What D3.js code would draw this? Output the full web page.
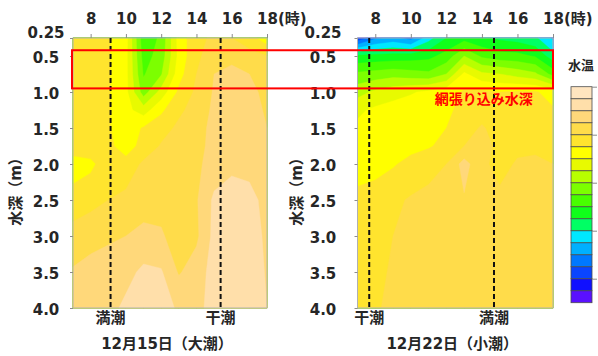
<!DOCTYPE html>
<html>
<head>
<meta charset="utf-8">
<script src="https://cdn.jsdelivr.net/npm/d3@7"></script>
<style>
  body { margin: 0; background: #fff; }
  svg text { font-family: "DejaVu Sans", "Noto Sans CJK JP", sans-serif; font-weight: bold; fill: #262626; }
</style>
</head>
<body>
<div id="chart"></div>
<script>
// grid of the measurements: hours (columns) x depth in m (rows)
const hours = [7, 8, 9, 10, 11, 12, 13, 14, 15, 16, 17, 18];
const depths = [0.25, 0.5, 0.75, 1.0, 1.25, 1.5, 1.75, 2.0, 2.5, 3.0, 3.5, 4.0];
const hourTicks = [8, 10, 12, 14, 16, 18];
const depthTicks = [0.25, 0.5, 1.0, 1.5, 2.0, 2.5, 3.0, 3.5, 4.0];

// colour bands of the water temperature scale, coldest first
const bandColors = [
  '#5A10FF', '#1010FF', '#0A45FF', '#0078FF', '#00B0FF', '#00E8FF',
  '#00FF64', '#10FF1A', '#48FF00', '#7CFF00', '#B8FF00', '#E8FA00',
  '#FFFF00', '#FFE42E', '#FFDC4A', '#FFD87A', '#FFDFAA', '#FFE5C0'
];

// water temperature, in colour-band units (rows = depths)
const tempDec15 = [
  [13.7, 13.7, 13.1, 12.4,  8.3,  9.2, 12.4, 13.7, 14.2, 14.0, 13.4, 12.4],
  [13.7, 13.7, 13.1, 12.3,  8.6,  9.4, 12.3, 13.8, 14.5, 14.8, 14.4, 14.0],
  [13.7, 13.7, 13.1, 12.3,  8.9,  9.9, 12.6, 14.0, 15.0, 15.2, 15.0, 14.6],
  [13.7, 13.7, 13.1, 12.3,  9.5, 11.4, 13.2, 14.2, 15.1, 15.3, 15.2, 14.8],
  [13.7, 13.7, 13.1, 12.3, 11.5, 12.8, 13.8, 14.4, 15.2, 15.4, 15.3, 14.9],
  [13.7, 13.6, 13.1, 12.4, 13.1, 13.6, 14.2, 14.6, 15.3, 15.5, 15.4, 15.0],
  [13.6, 13.5, 13.2, 12.6, 13.3, 14.1, 14.4, 14.7, 15.3, 15.6, 15.5, 15.1],
  [12.5, 12.8, 13.5, 13.3, 14.2, 14.5, 14.6, 14.8, 15.4, 15.7, 15.6, 15.2],
  [13.4, 13.6, 14.0, 14.3, 14.5, 14.7, 14.8, 14.9, 16.2, 16.6, 16.4, 15.6],
  [14.4, 14.8, 14.9, 15.0, 15.3, 15.1, 14.6, 14.8, 16.3, 16.6, 16.5, 15.8],
  [15.1, 15.2, 15.3, 15.7, 16.2, 16.1, 14.9, 15.5, 16.4, 16.7, 16.6, 15.9],
  [15.2, 15.4, 15.7, 16.2, 16.5, 16.3, 15.9, 15.7, 16.4, 16.7, 16.6, 16.0]
];
const tempDec22 = [
  [ 2.2,  3.8,  4.3,  3.6,  5.6,  7.0,  7.6,  7.2,  6.8,  6.6,  6.2,  4.8],
  [ 7.2,  7.3,  7.4,  7.5,  7.7,  8.4, 10.0,  8.8,  8.4,  8.3,  7.9,  6.4],
  [ 9.2,  9.4,  9.6,  9.4,  9.2, 10.0, 12.2, 11.2, 11.0, 10.6, 10.2,  8.6],
  [10.6, 11.2, 11.6, 11.9, 12.2, 12.6, 13.1, 13.2, 13.0, 13.1, 13.1, 12.6],
  [11.8, 12.2, 12.4, 12.5, 12.6, 12.8, 13.3, 13.6, 13.3, 13.3, 13.3, 13.1],
  [12.2, 12.3, 12.5, 12.6, 12.8, 13.0, 13.6, 14.1, 13.6, 13.5, 13.5, 13.4],
  [12.4, 12.4, 12.6, 12.7, 12.9, 13.3, 14.0, 14.3, 13.8, 13.8, 13.8, 13.6],
  [12.5, 12.6, 12.9, 13.3, 13.6, 14.0, 15.4, 14.2, 13.7, 14.1, 14.2, 14.0],
  [13.3, 13.5, 13.8, 14.1, 14.3, 14.4, 14.9, 14.4, 14.2, 14.3, 14.4, 14.3],
  [13.4, 13.6, 14.0, 14.2, 14.3, 14.4, 14.4, 14.4, 14.4, 14.4, 14.4, 14.4],
  [13.5, 13.8, 14.1, 14.2, 14.3, 14.4, 14.4, 14.4, 14.4, 14.4, 14.4, 14.4],
  [13.6, 13.9, 14.2, 14.3, 14.3, 14.4, 14.4, 14.4, 14.4, 14.4, 14.4, 14.4]
];

// high / low tide times
const tideDec15 = [{ hour: 9.13, label: '満潮' }, { hour: 15.37, label: '干潮' }];
const tideDec22 = [{ hour: 7.66, label: '干潮' }, { hour: 14.68, label: '満潮' }];

// depth range of the net
const netDepth = [0.42, 0.95];

const W = 598, H = 356;
const plotTop = 38, plotBottom = 308;

const svg = d3.select('#chart').append('svg')
  .attr('width', W).attr('height', H);

const ys = d3.scaleLinear()
  .domain([depths[0], depths[depths.length - 1]])
  .range([plotTop, plotBottom]);

const panels = [
  { x0: 73, x1: 267, temps: tempDec15, tides: tideDec15, title: '12月15日（大潮）', labelX: 46, titleX: 16 },
  { x0: 357.5, x1: 553, temps: tempDec22, tides: tideDec22, title: '12月22日（小潮）', labelX: 323, titleX: 297 }
];

const scales = panels.map(p => drawPanel(p));

function drawPanel(p) {
  const xs = d3.scaleLinear()
    .domain([hours[0], hours[hours.length - 1]])
    .range([p.x0, p.x1]);

  const g = svg.append('g');
  const nx = hours.length, ny = depths.length;

  // grid index -> data value (depth rows are not evenly spaced)
  const idxHour = d3.scaleLinear().domain(d3.range(nx)).range(hours).clamp(true);
  const idxDepth = d3.scaleLinear().domain(d3.range(ny)).range(depths).clamp(true);
  const proj = d3.geoTransform({
    point(x, y) { this.stream.point(xs(idxHour(x - 0.5)), ys(idxDepth(y - 0.5))); }
  });
  const path = d3.geoPath(proj);

  const contours = d3.contours()
    .size([nx, ny])
    .thresholds(d3.range(0, bandColors.length))(p.temps.flat());

  g.selectAll('path.band')
    .data(contours)
    .join('path')
      .attr('class', 'band')
      .attr('d', path)
      .attr('fill', d => bandColors[d.value])
      .attr('stroke', d => bandColors[d.value])
      .attr('stroke-width', 0.4);

  // plot frame
  g.append('rect')
    .attr('x', xs.range()[0]).attr('y', plotTop)
    .attr('width', xs.range()[1] - xs.range()[0]).attr('height', plotBottom - plotTop)
    .attr('fill', 'none').attr('stroke', '#b0b0b0').attr('stroke-width', 1);

  // top axis (hours)
  const xAxis = d3.axisTop(xs).tickValues(hourTicks).tickSize(4).tickSizeOuter(0);
  const xg = g.append('g').attr('transform', `translate(0,${plotTop})`).call(xAxis);
  xg.select('.domain').remove();
  xg.selectAll('line').attr('stroke', '#8c8c8c');
  xg.selectAll('text').attr('font-size', 15).attr('y', -14).attr('dy', 0);
  const last = xg.selectAll('.tick text').filter(d => d === hourTicks[hourTicks.length - 1]);
  const half = last.node().getComputedTextLength() / 2;
  last.attr('text-anchor', 'start').attr('x', -half).append('tspan').text('(時)');

  // left axis (depth)
  const yAxis = d3.axisLeft(ys).tickValues(depthTicks).tickSize(3).tickSizeOuter(0)
    .tickFormat(d => d === 0.25 ? '0.25' : d3.format('.1f')(d));
  const yg = g.append('g').attr('transform', `translate(${xs.range()[0]},0)`).call(yAxis);
  yg.select('.domain').remove();
  yg.selectAll('line').attr('stroke', '#8c8c8c');
  yg.selectAll('text')
    .attr('font-size', 15)
    .attr('text-anchor', 'middle')
    .attr('x', p.labelX - xs.range()[0])
    .attr('dy', d => d === depths[0] ? '-0.05em' : '0.4em');

  svg.append('text')
    .attr('transform', `translate(${p.titleX},188) rotate(-90)`)
    .attr('text-anchor', 'middle')
    .attr('dominant-baseline', 'central')
    .attr('font-size', 15)
    .text('水深（m）');

  // tide lines
  g.selectAll('line.tide')
    .data(p.tides)
    .join('line')
      .attr('class', 'tide')
      .attr('x1', d => xs(d.hour)).attr('x2', d => xs(d.hour))
      .attr('y1', plotTop).attr('y2', plotBottom)
      .attr('stroke', '#111').attr('stroke-width', 2)
      .attr('stroke-dasharray', '5,3');

  g.selectAll('text.tide')
    .data(p.tides)
    .join('text')
      .attr('class', 'tide')
      .attr('x', d => xs(d.hour))
      .attr('y', plotBottom + 15)
      .attr('text-anchor', 'middle')
      .attr('font-size', 15)
      .text(d => d.label);

  svg.append('text')
    .attr('x', (xs.range()[0] + xs.range()[1]) / 2 - 3)
    .attr('y', 349)
    .attr('text-anchor', 'middle')
    .attr('font-size', 15)
    .text(p.title);

  return xs;
}

// net depth box across both panels
const netG = svg.append('g');
netG.append('rect')
  .attr('x', scales[0].range()[0] - 1)
  .attr('y', ys(netDepth[0]))
  .attr('width', scales[1].range()[1] - scales[0].range()[0] + 1)
  .attr('height', ys(netDepth[1]) - ys(netDepth[0]))
  .attr('fill', 'none').attr('stroke', '#ff0000').attr('stroke-width', 2);
netG.append('text')
  .attr('x', scales[1](14.1))
  .attr('y', ys(netDepth[1]) + 16)
  .attr('text-anchor', 'middle')
  .attr('font-size', 14)
  .style('fill', '#ff0000')
  .text('網張り込み水深');

// colour scale legend
const lg = svg.append('g');
const cs = d3.scaleLinear().domain([0, bandColors.length]).range([302.7, 86.7]);
const lx = 571, lw = 21;
lg.selectAll('rect.key')
  .data(bandColors)
  .join('rect')
    .attr('class', 'key')
    .attr('x', lx)
    .attr('y', (d, i) => cs(i + 1))
    .attr('width', lw)
    .attr('height', (d, i) => cs(i) - cs(i + 1))
    .attr('fill', d => d)
    .attr('stroke', '#4d4d4d').attr('stroke-width', 0.8);
const cAxis = d3.axisRight(cs).tickValues([2, 6, 10, 14, 18]).tickSize(5).tickFormat('');
const cg = lg.append('g').attr('transform', `translate(${lx + lw},0)`).call(cAxis);
cg.select('.domain').remove();
cg.selectAll('line').attr('stroke', '#8c8c8c');
lg.append('text')
  .attr('x', 581).attr('y', 70)
  .attr('text-anchor', 'middle')
  .attr('font-size', 13)
  .text('水温');
</script>
</body>
</html>
